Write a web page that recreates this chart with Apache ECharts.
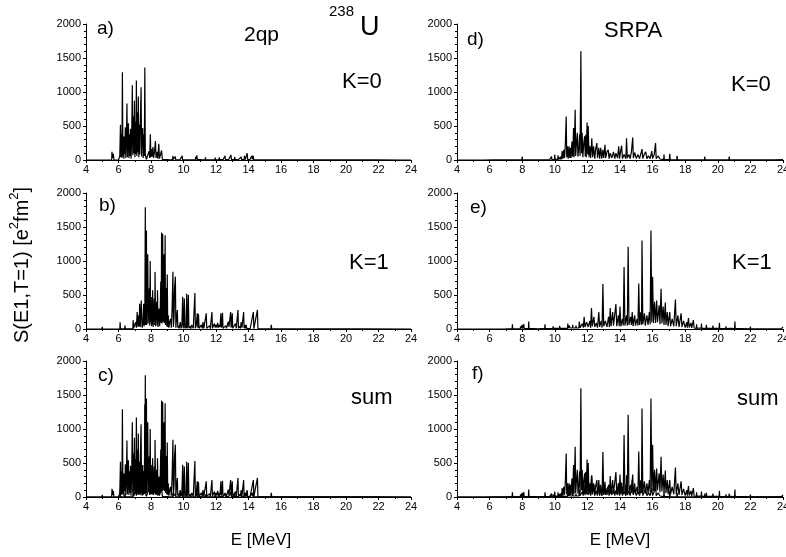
<!DOCTYPE html>
<html><head><meta charset="utf-8">
<script src="https://cdn.jsdelivr.net/npm/echarts@6/dist/echarts.min.js"></script>
<style>html,body{margin:0;padding:0;background:#fff}#c{width:786px;height:557px}</style>
</head><body><div id="c"></div>
<script>
// Energy axis ticks (MeV) and strength axis ticks
const xTicks = [4, 24, 2];
const yTicks = [0, 2000, 500];

// 2qp, K=0  [E (MeV), S (e^2 fm^2)]
const qpK0 = [
[4.0,0],[4.4,0],[4.45,8],[4.5,0],[5.0,0],[5.02,8],[5.05,0],[5.58,0],[5.6,120],[5.63,30],[5.68,90],[5.72,0],[6.0,0],[6.08,60],[6.12,520],[6.15,40],[6.18,380],[6.21,30],[6.24,1290],[6.27,50],[6.3,340],[6.33,20],[6.36,350],[6.39,90],[6.42,480],[6.45,30],[6.49,330],[6.52,830],[6.55,40],[6.58,420],[6.61,540],[6.64,30],[6.67,380],[6.7,60],[6.74,460],[6.77,20],[6.81,300],[6.85,1100],[6.88,70],[6.91,640],[6.94,100],[6.98,870],[7.01,40],[7.04,560],[7.07,90],[7.1,1170],[7.13,60],[7.16,700],[7.19,110],[7.22,935],[7.25,40],[7.28,520],[7.31,80],[7.35,620],[7.39,1070],[7.42,50],[7.45,430],[7.49,470],[7.52,30],[7.56,380],[7.59,60],[7.62,1360],[7.65,100],[7.68,40],[7.72,10],[7.8,5],[7.88,130],[7.92,30],[7.96,380],[7.99,40],[8.04,160],[8.08,50],[8.12,190],[8.16,30],[8.22,130],[8.27,280],[8.31,30],[8.37,120],[8.42,20],[8.48,240],[8.52,20],[8.6,15],[8.65,140],[8.7,8],[8.8,4],
[9.0,6],[9.13,4],[9.15,30],[9.17,3],[9.33,5],[9.35,60],[9.37,8],[9.48,6],[9.5,50],[9.52,4],[9.78,3],[9.8,15],[9.82,4],[9.9,6],[9.92,60],[9.94,5],[10.28,3],[10.3,12],[10.32,3],[10.73,5],[10.75,45],[10.78,10],[10.82,70],[10.85,8],[11.18,3],[11.2,20],[11.22,3],[11.33,5],[11.35,40],[11.37,5],[11.68,3],[11.7,15],[11.72,3],[11.93,4],[11.95,35],[11.97,4],[12.18,5],[12.2,40],[12.22,5],[12.43,5],[12.45,30],[12.5,8],[12.55,60],[12.58,5],[12.78,6],[12.8,35],[12.84,6],[12.92,75],[12.95,6],[13.13,6],[13.15,45],[13.18,6],[13.38,5],[13.4,30],[13.45,8],[13.55,45],[13.58,5],[13.73,6],[13.75,60],[13.8,8],[13.92,100],[13.95,5],[14.08,5],[14.1,25],[14.15,8],[14.2,60],[14.24,10],[14.28,65],[14.32,5],[14.48,4],[14.5,25],[14.53,3],[15.23,2],[15.25,30],[15.28,2],[15.48,2],[15.5,25],[15.53,2],[15.73,2],[15.75,25],[15.78,2],[16.28,1],[16.3,8],[16.33,1],[17.38,1],[17.4,10],[17.43,1],[18.58,1],[18.6,8],[18.63,1],[19.28,1],[19.3,15],[19.33,1],[20.68,1],[20.7,10],[20.73,1],[21.78,1],[21.8,5],[21.83,1],[23.48,0],[23.5,4],[23.53,0],[24,0]
];

// 2qp, K=1
const qpK1 = [
[4.0,0],[4.78,0],[4.8,20],[4.82,0],[4.98,0],[5.0,30],[5.02,0],[6.08,0],[6.1,100],[6.12,5],[6.38,3],[6.4,50],[6.42,3],[6.88,5],[6.9,130],[6.93,10],[7.05,100],[7.1,20],[7.15,250],[7.2,30],[7.25,200],[7.28,40],[7.3,370],[7.34,30],[7.4,420],[7.45,20],[7.5,60],[7.55,370],[7.58,40],[7.62,150],[7.65,1790],[7.67,60],[7.68,800],[7.7,100],[7.72,1450],[7.74,60],[7.76,500],[7.8,1100],[7.83,80],[7.86,400],[7.9,600],[7.92,50],[7.95,1000],[7.98,100],[8.0,300],[8.03,40],[8.05,470],[8.08,60],[8.1,570],[8.13,30],[8.16,200],[8.2,450],[8.23,60],[8.25,840],[8.28,40],[8.31,250],[8.35,400],[8.38,50],[8.4,570],[8.43,30],[8.46,200],[8.5,300],[8.53,40],[8.56,150],[8.6,700],[8.63,90],[8.65,1420],[8.67,80],[8.69,500],[8.72,1400],[8.74,100],[8.76,700],[8.8,1100],[8.82,90],[8.84,400],[8.87,1380],[8.89,60],[8.92,300],[8.95,600],[8.97,40],[9.0,800],[9.03,30],[9.06,200],[9.1,20],[9.15,100],[9.2,150],[9.25,20],[9.3,300],[9.35,840],[9.38,30],[9.42,200],[9.45,600],[9.5,770],[9.53,20],[9.57,150],[9.62,280],[9.65,20],[9.7,50],[9.73,10],[9.8,100],[9.85,10],[9.9,60],[9.95,475],[9.98,10],[10.02,100],[10.05,450],[10.08,10],[10.12,50],[10.15,10],[10.2,520],[10.23,10],[10.26,80],[10.3,500],[10.33,10],[10.4,40],[10.45,5],[10.5,60],[10.6,10],[10.7,530],[10.73,10],[10.78,50],[10.85,230],[10.88,20],[10.92,220],[10.96,10],[11.1,60],[11.15,10],[11.2,100],[11.25,10],[11.4,230],[11.43,10],[11.6,50],[11.65,5],[11.75,250],[11.78,10],[11.9,80],[11.95,20],[12.0,60],[12.05,20],[12.1,90],[12.15,20],[12.2,60],[12.25,30],[12.3,230],[12.33,20],[12.37,80],[12.4,240],[12.43,10],[12.6,50],[12.65,10],[12.75,110],[12.8,30],[12.9,250],[12.93,20],[12.96,80],[13.0,230],[13.03,10],[13.2,80],[13.25,10],[13.35,280],[13.38,10],[13.45,40],[13.5,10],[13.55,100],[13.6,20],[13.7,250],[13.73,10],[13.78,60],[13.82,10],[13.85,60],[13.9,10],[14.0,30],[14.1,5],[14.3,250],[14.33,5],[14.4,20],[14.45,5],[14.55,280],[14.58,5],[14.9,3],[14.92,20],[14.94,3],[15.18,3],[15.2,30],[15.22,3],[15.38,5],[15.4,60],[15.43,5],[15.68,3],[15.7,20],[15.72,3],[16.5,2],[16.52,15],[16.55,2],[16.98,2],[17.0,10],[17.02,2],[17.98,2],[18.0,10],[18.02,2],[18.98,2],[19.0,10],[19.02,2],[20.98,2],[21.0,8],[21.02,2],[24.0,0]
];

// SRPA, K=0
const rpaK0 = [
[4,0],[4.5,0],[4.52,5],[4.55,0],[5.68,0],[5.7,20],[5.72,2],[6.18,2],[6.2,10],[6.22,2],[6.48,3],[6.5,30],[6.52,3],[6.88,2],[6.9,12],[6.92,2],[7.18,2],[7.2,8],[7.22,2],[7.38,2],[7.4,15],[7.42,2],[7.98,3],[8.0,50],[8.02,3],[8.38,2],[8.4,10],[8.42,2],[8.78,2],[8.8,8],[8.82,2],[9.08,3],[9.1,25],[9.12,3],[9.28,4],[9.3,15],[9.32,4],[9.48,4],[9.5,25],[9.52,4],[9.68,5],[9.7,20],[9.72,5],[9.78,5],[9.8,50],[9.82,5],[9.88,5],[9.9,30],[9.92,5],[9.98,8],[10.0,80],[10.02,8],[10.08,8],[10.1,20],[10.12,8],[10.18,8],[10.2,70],[10.22,8],[10.28,8],[10.3,40],[10.32,8],[10.38,8],[10.4,60],[10.42,10],[10.45,130],[10.5,20],[10.55,150],[10.6,30],[10.65,250],[10.7,640],[10.73,40],[10.78,200],[10.82,20],[10.88,200],[10.92,30],[10.97,180],[11.0,30],[11.05,270],[11.1,50],[11.15,470],[11.18,40],[11.25,740],[11.28,60],[11.33,250],[11.38,400],[11.42,50],[11.48,200],[11.52,380],[11.55,60],[11.6,1600],[11.64,100],[11.68,400],[11.72,40],[11.78,250],[11.83,350],[11.87,50],[11.9,370],[11.93,40],[11.98,550],[12.02,80],[12.05,500],[12.1,40],[12.15,200],[12.2,30],[12.27,320],[12.32,40],[12.38,200],[12.45,20],[12.5,150],[12.58,250],[12.62,30],[12.7,180],[12.75,20],[12.82,180],[12.88,20],[12.95,150],[13.0,30],[13.08,225],[13.12,30],[13.2,120],[13.28,150],[13.33,20],[13.4,100],[13.5,30],[13.6,120],[13.68,20],[13.75,100],[13.85,30],[13.92,200],[13.97,20],[14.05,150],[14.1,210],[14.15,20],[14.25,80],[14.32,100],[14.36,20],[14.4,320],[14.45,30],[14.55,80],[14.62,20],[14.7,120],[14.78,330],[14.82,30],[14.9,110],[15.0,20],[15.1,80],[15.2,20],[15.35,160],[15.4,20],[15.5,90],[15.58,120],[15.65,20],[15.75,60],[15.85,20],[15.95,130],[16.0,20],[16.1,80],[16.18,250],[16.22,20],[16.35,60],[16.45,15],[16.68,5],[16.7,80],[16.72,5],[16.88,5],[16.9,30],[16.92,5],[17.03,5],[17.05,90],[17.08,5],[17.28,4],[17.3,30],[17.32,4],[17.48,4],[17.5,60],[17.53,4],[17.78,3],[17.8,20],[17.82,3],[17.98,3],[18.0,10],[18.28,3],[18.3,20],[18.32,3],[18.58,3],[18.6,8],[18.98,3],[19.0,20],[19.02,3],[19.18,3],[19.2,50],[19.22,3],[19.58,3],[19.6,15],[19.62,3],[20.08,3],[20.1,15],[20.12,3],[20.38,3],[20.4,8],[20.68,3],[20.7,50],[20.72,3],[21.18,2],[21.2,15],[21.22,2],[21.98,2],[22.0,15],[22.02,2],[22.38,2],[22.4,8],[22.78,2],[22.8,20],[22.82,2],[23.48,2],[23.5,15],[23.52,2],[24,5]
];

// SRPA, K=1
const rpaK1 = [
[4,0],[5,0],[5.02,2],[6,0],[6.02,3],[6.5,0],[6.52,5],[6.98,2],[7.0,10],[7.02,2],[7.18,3],[7.2,20],[7.22,3],[7.38,3],[7.4,70],[7.42,3],[7.68,3],[7.7,20],[7.72,3],[7.88,5],[7.9,40],[7.92,5],[7.98,5],[8.0,60],[8.02,5],[8.08,5],[8.1,70],[8.12,5],[8.2,20],[8.22,5],[8.38,5],[8.4,110],[8.42,5],[8.68,5],[8.7,30],[8.72,5],[8.98,4],[9.0,15],[9.02,4],[9.18,5],[9.2,30],[9.22,5],[9.38,5],[9.4,70],[9.42,5],[9.68,5],[9.7,30],[9.72,5],[9.88,8],[9.9,40],[9.92,8],[10.08,8],[10.1,30],[10.12,8],[10.28,8],[10.3,45],[10.32,8],[10.48,10],[10.5,30],[10.52,10],[10.78,10],[10.8,80],[10.82,10],[10.88,15],[10.9,50],[10.92,15],[11.08,15],[11.1,60],[11.12,15],[11.28,15],[11.3,50],[11.32,15],[11.48,15],[11.5,110],[11.55,20],[11.7,80],[11.75,20],[11.8,180],[11.85,30],[11.95,100],[12.05,30],[12.15,120],[12.2,20],[12.25,310],[12.3,40],[12.4,180],[12.45,30],[12.55,90],[12.62,20],[12.7,250],[12.75,30],[12.85,120],[12.9,20],[12.95,660],[13.0,40],[13.1,120],[13.2,30],[13.3,180],[13.35,30],[13.4,310],[13.45,40],[13.55,250],[13.6,50],[13.7,60],[13.75,365],[13.8,40],[13.9,200],[13.95,40],[14.0,330],[14.05,40],[14.15,150],[14.2,50],[14.25,910],[14.3,50],[14.4,200],[14.45,50],[14.5,1210],[14.55,60],[14.65,180],[14.7,60],[14.75,250],[14.8,40],[14.9,200],[14.95,50],[15.05,150],[15.1,50],[15.15,670],[15.2,60],[15.28,250],[15.32,60],[15.35,1300],[15.4,70],[15.5,230],[15.55,50],[15.65,200],[15.72,60],[15.8,250],[15.85,70],[15.9,1450],[15.95,100],[16.0,770],[16.05,90],[16.12,400],[16.18,90],[16.25,420],[16.3,100],[16.4,350],[16.45,70],[16.52,590],[16.57,80],[16.65,330],[16.7,60],[16.78,390],[16.82,60],[16.9,250],[16.95,40],[17.05,250],[17.1,40],[17.2,150],[17.3,40],[17.4,435],[17.45,40],[17.55,200],[17.62,30],[17.75,230],[17.8,30],[17.9,120],[18.0,20],[18.1,100],[18.13,20],[18.2,160],[18.25,20],[18.35,90],[18.4,15],[18.5,130],[18.55,15],[18.68,10],[18.7,70],[18.72,10],[18.85,15],[18.98,10],[19.0,80],[19.02,10],[19.28,8],[19.3,60],[19.32,8],[19.5,10],[19.68,8],[19.7,50],[19.72,8],[19.9,10],[20.08,8],[20.1,90],[20.12,8],[20.48,5],[20.5,40],[20.52,5],[20.8,8],[21.03,5],[21.05,110],[21.07,5],[21.38,5],[21.4,30],[21.42,5],[21.98,4],[22.0,35],[22.02,4],[22.68,3],[22.7,30],[22.72,3],[23.38,3],[23.4,30],[23.42,3],[23.9,3],[24,30]
];

const chart = echarts.init(document.getElementById('c'), null, {renderer: 'canvas'});
const FONT = 'Liberation Sans, Arial, sans-serif';
const grids = [
  {left: 86, width: 325, top: 24, height: 136},
  {left: 86, width: 325, top: 193, height: 136},
  {left: 86, width: 325, top: 361, height: 136},
  {left: 457, width: 326, top: 24, height: 136},
  {left: 457, width: 326, top: 193, height: 136},
  {left: 457, width: 326, top: 361, height: 136}
].map(g => Object.assign({outerBoundsMode: 'none', containLabel: false}, g));
const axLine = {show: true, lineStyle: {color: '#000', width: 1}};
const xAxes = grids.map((g, i) => ({
  type: 'value', gridIndex: i, min: xTicks[0], max: xTicks[1], interval: xTicks[2],
  axisLine: Object.assign({onZero: false}, axLine),
  axisTick: {show: true, length: 3, lineStyle: {color: '#000'}},
  minorTick: {show: true, splitNumber: 2, length: 2, lineStyle: {color: '#000'}},
  splitLine: {show: false},
  axisLabel: {color: '#000', fontSize: 11, fontFamily: FONT, margin: 4, showMaxLabel: true, showMinLabel: true,
    formatter: v => String(v)}
}));
const yAxes = grids.map((g, i) => ({
  type: 'value', gridIndex: i, min: yTicks[0], max: yTicks[1], interval: yTicks[2],
  axisLine: axLine,
  axisTick: {show: true, length: 3, lineStyle: {color: '#000'}},
  minorTick: {show: true, splitNumber: 5, length: 2, lineStyle: {color: '#000'}},
  splitLine: {show: false},
  axisLabel: {color: '#000', fontSize: 11, fontFamily: FONT, margin: 5, formatter: v => String(v)}
}));
function line(data, idx) {
  return {type: 'line', xAxisIndex: idx, yAxisIndex: idx, data: data, showSymbol: false,
    symbol: 'none', sampling: null, lineStyle: {color: '#000', width: 1.2}, silent: true, z: 3};
}
const series = [
  line(qpK0, 0), line(qpK1, 1), line(qpK0, 2), line(qpK1, 2),
  line(rpaK0, 3), line(rpaK1, 4), line(rpaK0, 5), line(rpaK1, 5)
];
function txt(x, y, s, size, align) {
  return {type: 'text', x: x, y: y, silent: true,
    style: {text: s, fill: '#000', font: size + 'px ' + FONT, textAlign: align || 'left', textVerticalAlign: 'middle'}};
}
const graphic = [
  txt(97, 29, 'a)', 19), txt(99, 206, 'b)', 19), txt(98, 376, 'c)', 19),
  txt(467, 40, 'd)', 19), txt(470, 208, 'e)', 19), txt(472, 374, 'f)', 19),
  txt(244, 35, '2qp', 21), txt(329, 12, '238', 15), txt(360, 28, 'U', 27),
  txt(342, 82, 'K=0', 22), txt(349, 263, 'K=1', 22), txt(351, 398, 'sum', 22),
  txt(604, 31, 'SRPA', 22), txt(731, 85, 'K=0', 22), txt(732, 263, 'K=1', 22), txt(737, 399, 'sum', 22),
  txt(261, 540, 'E [MeV]', 17, 'center'), txt(620, 540, 'E [MeV]', 17, 'center'),
  {type: 'text', x: 20, y: 265, rotation: Math.PI / 2, silent: true,
   style: {text: '{a|S(E1,T=1) [e}{s|2}{a|fm}{s|2}{a|]}', textAlign: 'center', textVerticalAlign: 'middle',
     rich: {a: {fontSize: 20, fontFamily: FONT, fill: '#000', color: '#000', lineHeight: 24, verticalAlign: 'bottom'},
            s: {fontSize: 13, fontFamily: FONT, fill: '#000', color: '#000', lineHeight: 24, verticalAlign: 'top'}}}}
];
chart.setOption({
  animation: false, backgroundColor: '#fff',
  grid: grids, xAxis: xAxes, yAxis: yAxes, series: series, graphic: graphic
});
</script></body></html>
